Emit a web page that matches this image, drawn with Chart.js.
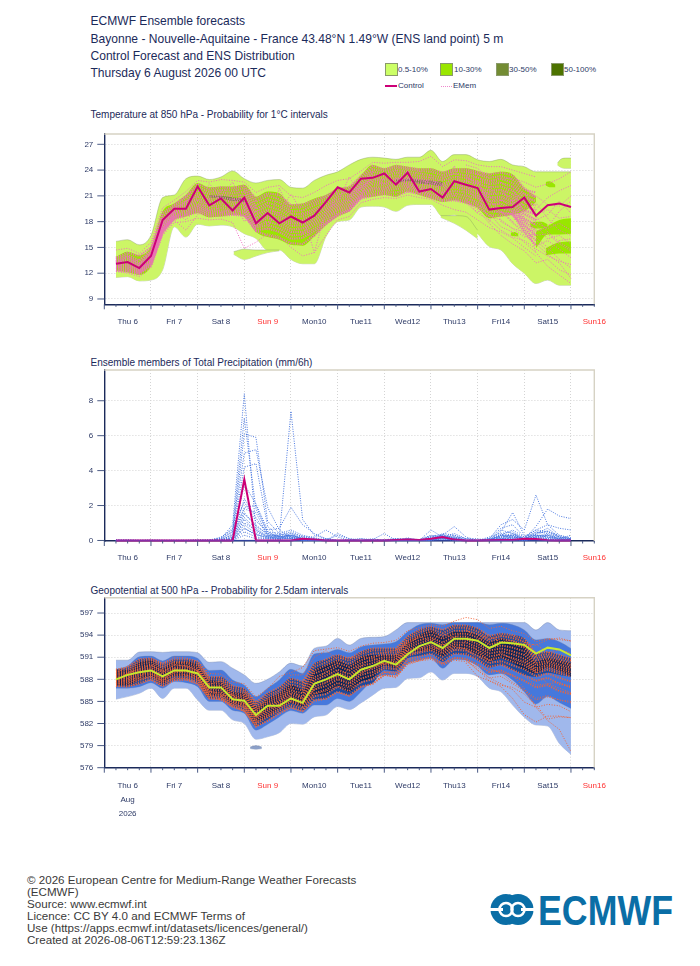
<!DOCTYPE html>
<html>
<head>
<meta charset="utf-8">
<script src="https://cdn.jsdelivr.net/npm/chart.js@4"></script>
<style>
  html, body { margin: 0; padding: 0; background: #fff; }
  body { position: relative; width: 700px; height: 966px; overflow: hidden; font-family: "Liberation Sans", Arial, sans-serif; }
  canvas { position: absolute; left: 0; }
  .txt { position: absolute; white-space: nowrap; color: #1b2a5a; }
  .head { font-size: 12.06px; left: 90.5px; line-height: 14px; }
  .sub { font-size: 10.03px; left: 90.5px; line-height: 12px; }
  .foot { font-size: 11.6px; left: 27px; line-height: 12px; color: #3a3a3a; }
  .leg { font-size: 8px; line-height: 10px; color: #2d3a66; }
  .sw { position: absolute; width: 11px; height: 11px; top: 63px; border: 1px solid #8a9a6a; }
</style>
</head>
<body>
<div class="txt head" style="top:13.5px">ECMWF Ensemble forecasts</div>
<div class="txt head" style="top:31.5px">Bayonne - Nouvelle-Aquitaine - France 43.48°N 1.49°W (ENS land point) 5 m</div>
<div class="txt head" style="top:48.5px">Control Forecast and ENS Distribution</div>
<div class="txt head" style="top:65.5px">Thursday 6 August 2026 00 UTC</div>

<div class="sw" style="left:385px;background:#ccff66"></div><div class="txt leg" style="left:398px;top:65px">0.5-10%</div>
<div class="sw" style="left:440px;background:#99e600"></div><div class="txt leg" style="left:454px;top:65px">10-30%</div>
<div class="sw" style="left:496px;background:#738c33"></div><div class="txt leg" style="left:509px;top:65px">30-50%</div>
<div class="sw" style="left:551px;background:#4d7300"></div><div class="txt leg" style="left:564px;top:65px">50-100%</div>
<div style="position:absolute;left:385px;top:85px;width:12px;height:2px;background:#cc0077"></div><div class="txt leg" style="left:398px;top:81px">Control</div>
<div style="position:absolute;left:441px;top:86px;width:11px;border-top:1px dotted #ee88cc"></div><div class="txt leg" style="left:453px;top:81px">EMem</div>

<div class="txt sub" style="top:108.5px">Temperature at 850 hPa - Probability for 1°C intervals</div>
<div class="txt sub" style="top:356.5px">Ensemble members of Total Precipitation (mm/6h)</div>
<div class="txt sub" style="top:584.5px">Geopotential at 500 hPa -- Probability for 2.5dam intervals</div>

<canvas id="tempChart" width="700" height="220" style="top:120px"></canvas>
<canvas id="rainChart" width="700" height="210" style="top:356px"></canvas>
<canvas id="geoChart" width="700" height="250" style="top:584px"></canvas>

<div class="txt foot" style="top:874px">© 2026 European Centre for Medium-Range Weather Forecasts</div>
<div class="txt foot" style="top:886px">(ECMWF)</div>
<div class="txt foot" style="top:898px">Source: www.ecmwf.int</div>
<div class="txt foot" style="top:910px">Licence: CC BY 4.0 and ECMWF Terms of</div>
<div class="txt foot" style="top:922px">Use (https://apps.ecmwf.int/datasets/licences/general/)</div>
<div class="txt foot" style="top:934px">Created at 2026-08-06T12:59:23.136Z</div>

<svg style="position:absolute;left:485px;top:885px" width="195" height="48" viewBox="0 0 195 48">
  <circle cx="21" cy="24.5" r="15.5" fill="#0a6ea6"/>
  <circle cx="33" cy="24.5" r="15.5" fill="#0a6ea6"/>
  <circle cx="21" cy="24.5" r="6.5" fill="none" stroke="#fff" stroke-width="2.6"/>
  <circle cx="33" cy="24.5" r="6.5" fill="none" stroke="#fff" stroke-width="2.6"/>
  <rect x="4" y="23" width="14" height="3" fill="#fff"/>
  <rect x="36" y="23" width="14" height="3" fill="#fff"/>
  <text x="53" y="39.5" font-family="Liberation Sans" font-weight="bold" font-size="42" fill="#0a6ea6" textLength="135" lengthAdjust="spacingAndGlyphs">ECMWF</text>
</svg>

<script>
const hours = [6,12,18,24,30,36,42,48,54,60,66,72,78,84,90,96,102,108,114,120,126,132,138,144,150,156,162,168,174,180,186,192,198,204,210,216,222,228,234,240];
const lateHours = [186,192,198,204,210,216,222,228,234,240];
const xTicks = [0,6,12,18,24,30,36,42,48,54,60,66,72,78,84,90,96,102,108,114,120,126,132,138,144,150,156,162,168,174,180,186,192,198,204,210,216,222,228,234,240,246,252];
const dayHours = [12,36,60,84,108,132,156,180,204,228,252];
const dayNames = ['Thu 6','Fri 7','Sat 8','Sun 9','Mon10','Tue11','Wed12','Thu13','Fri14','Sat15','Sun16'];
const redDays = [84,252];

const tempTicks = [9,12,15,18,21,24,27];
const rainTicks = [0,2,4,6,8];
const geoTicks = [576,579,582,585,588,591,594,597];

const tempControl = [13.1,13.3,12.6,14,18.2,19.5,19.5,22.1,19.9,20.7,19.3,20.8,17.8,19,17.8,18.6,17.9,18.7,20.3,22,21.4,23,23.1,23.6,22.3,23.7,21.5,21.8,20.8,22.7,22.3,21.9,19.4,19.6,19.7,20.8,18.7,19.9,20.1,19.7];
const temp10Upper = [15.7,15.9,15.3,16.4,20.8,21.1,23,23.3,22.9,23.2,23.9,23,22.5,22.8,22.9,22,21.9,22.8,23.4,23.8,24.6,25.25,25.5,25.4,25.25,25.5,25.5,26.3,25,25.8,25.8,25.2,25,25.25,24.6,24.4,23.8,23.8,23.8,23.8];
const temp10Lower = [11.5,11.6,11.1,11.2,12.4,17.4,16.2,17.7,17.5,17.6,17.4,16.6,16.05,14.7,14.7,13.6,13.1,13.1,16.25,18,18.2,19.7,19.8,19.7,19.2,19.9,20,20,18.6,18.8,17.8,16.6,15.1,14.7,13.1,12,10.8,11.2,10.6,10.6];
const temp30Hours = [6,12,18,24,30,36,42,48,54,60,66,72,78,84,90,96,102,108,114,120,126,132,138,144,150,156,162,168,174,180,186,192,198,204,210,216,222];
const temp30Upper = [13.9,14.5,14.1,15.1,19.2,20.1,21.1,22.5,22,22.1,22.1,22.3,20.9,21.5,21.3,20,20.1,20.7,21.1,21.9,22.1,23.4,24.6,24.2,24.6,24.4,24.2,24.2,23.8,24.2,24.2,23.9,23.6,23.8,23.5,21.9,20.9];
const temp30Lower = [12.3,12.1,11.8,12.8,16.6,18.2,18.6,19,18.5,18.6,18.8,18.6,16.8,16.2,15.9,15.3,15.2,16.3,17.6,18.6,19.2,20.7,20.9,21.1,20.9,21.5,21.1,20.7,20.3,20.5,20.1,19.6,18.4,18.6,18.8,19.2,20.3];
const tempOliveHours = [[54,60,66,72],[150,156,162,168,174]];
const tempOliveUpper = [[21.1,21,20.8,20.7],[22.9,23,22.9,22.8,22.6]];
const tempOliveLower = [[20.8,20.7,20.4,20.3],[22.5,22.7,22.4,22.3,22.1]];
// pieces of the light band that stand apart
const tempBlobHours = [[66.5,72,78,84,90],[233,235,238,240],[173,180,186,192]];
const tempBlobUpper = [[14.5,14.8,14.7,14.7,14.7],[24.8,25.3,25.4,25.4],[18.7,18.7,18.6,17]];
const tempBlobLower = [[14.2,13.6,14,14.4,14.6],[24.6,24.3,24.2,24.2],[18.5,17.8,17,16]];
// pieces of the bright band in the spread-out end of the run
const tempPatchHours = [[219,222,225,228],[222,228,234,240],[227,234,240],[227,229,232],[209,211,213]];
const tempPatchUpper = [[17.9,18,18,17.7],[16.9,17.5,18.2,18.4],[14.9,15.6,15.7],[22.6,22.7,22.3],[16.7,16.8,16.6]];
const tempPatchLower = [[17.4,17.2,17.2,17.4],[14.9,16.5,16.5,16.6],[14.1,14.3,14.3],[22.2,22,22],[16.4,16.3,16.3]];
const tempMembers = [
  [13.8,14.4,14.0,15.0,19.0,20.0,21.0,22.4,21.8,22.0,21.9,22.2,20.7,21.3,21.1,19.9,20.0,20.5,21.0,21.8,22.0,23.3,24.5,24.1,24.5,24.3,24.1,24.1,23.7,24.1,24.1,23.8,23.5,23.7,23.4,21.9,20.8],
  [13.6,14.1,13.5,14.6,18.6,19.8,20.8,22.0,21.5,21.7,21.6,21.9,20.3,21.0,20.6,19.6,19.7,20.2,20.8,21.5,21.7,23.0,24.1,23.9,24.3,24.1,23.9,23.8,23.4,23.9,23.8,23.5,23.1,23.3,22.9,21.7,21.4],
  [13.4,13.9,13.2,14.4,18.1,19.6,20.4,21.6,21.2,21.4,21.3,21.5,19.9,20.6,20.2,19.2,19.3,19.9,20.5,21.2,21.4,22.7,23.8,23.6,24.0,23.8,23.6,23.4,23.1,23.6,23.4,23.1,22.7,23.0,22.5,21.2,20.9],
  [13.3,13.7,13.0,14.2,17.9,19.5,20.2,21.2,20.9,21.1,21.0,21.1,19.5,20.2,19.8,18.9,18.9,19.5,20.1,20.9,21.1,22.4,23.5,23.3,23.7,23.5,23.3,23.1,22.8,23.2,23.1,22.7,22.4,22.5,22.1,20.8,20.4],
  [13.2,13.5,12.8,14.0,17.7,19.3,20.0,20.9,20.6,20.8,20.6,20.8,19.1,19.8,19.4,18.5,18.6,19.2,19.8,20.6,20.9,22.1,23.2,23.0,23.4,23.2,23.0,22.8,22.4,22.9,22.7,22.4,22.0,22.1,21.6,20.3,19.9],
  [13.1,13.3,12.6,13.9,17.5,19.1,19.8,20.6,20.3,20.5,20.3,20.5,18.8,19.4,19.0,18.1,18.2,18.9,19.5,20.3,20.6,21.9,22.9,22.8,23.1,23.0,22.8,22.5,22.1,22.6,22.3,22.0,21.6,21.7,21.2,19.8,19.3],
  [13.0,13.1,12.5,13.7,17.3,19.0,19.6,20.4,20.0,20.2,20.0,20.2,18.4,19.1,18.7,17.8,17.9,18.5,19.2,20.0,20.4,21.7,22.6,22.5,22.9,22.7,22.5,22.2,21.8,22.3,22.0,21.6,21.2,21.3,20.8,19.3,18.8],
  [12.9,12.9,12.4,13.6,17.2,18.9,19.4,20.1,19.7,19.9,19.7,19.9,18.1,18.7,18.3,17.5,17.6,18.2,18.9,19.8,20.1,21.4,22.3,22.3,22.6,22.5,22.2,21.9,21.5,22.0,21.7,21.3,20.8,20.9,20.4,18.9,18.2],
  [12.8,12.8,12.3,13.4,17.1,18.7,19.2,19.9,19.4,19.6,19.4,19.6,17.8,18.4,18.0,17.1,17.2,17.9,18.6,19.5,19.9,21.2,22.0,22.0,22.4,22.3,22.0,21.6,21.3,21.6,21.4,21.0,20.4,20.5,20.0,18.4,17.6],
  [12.7,12.6,12.2,13.3,17.0,18.6,19.1,19.7,19.2,19.3,19.2,19.3,17.5,18.0,17.6,16.8,16.8,17.6,18.3,19.3,19.7,21.1,21.8,21.8,22.1,22.1,21.8,21.3,21.0,21.3,21.0,20.7,20.0,20.1,19.5,18.0,17.0],
  [12.6,12.5,12.1,13.2,16.9,18.5,18.9,19.5,19.0,19.1,19.0,19.1,17.3,17.6,17.2,16.4,16.5,17.2,18.0,19.0,19.5,20.9,21.5,21.6,21.8,21.9,21.6,21.1,20.8,21.0,20.7,20.3,19.6,19.6,19.2,17.6,16.4],
  [12.4,12.3,12.0,13.0,16.8,18.4,18.8,19.3,18.8,18.9,18.9,18.8,17.0,17.2,16.8,16.0,16.1,16.9,17.8,18.8,19.3,20.8,21.2,21.4,21.4,21.7,21.4,20.9,20.5,20.7,20.4,20.0,19.2,19.1,18.9,17.2,15.8],
  [12.3,12.2,11.9,12.9,16.7,18.3,18.7,19.1,18.6,18.7,18.8,18.7,16.9,16.4,16.1,15.5,15.4,16.4,17.7,18.7,19.3,20.7,21.0,21.2,21.0,21.5,21.2,20.8,20.4,20.5,20.2,19.7,18.7,18.7,18.9,16.8,15.2]
];
const tempStrayMembers = [
  [14.7,14.9,14.3,15.6,19.6,20.5,21.5,22.8,22.6,22.9,22.8,22.6,21.4,22.0,22.2,21.0,20.8,21.4,22.2,22.8,23.0,23.9,24.9,24.8,24.9,24.9,25.0,25.6,24.4,25.2,25.1,24.6,24.4,24.4,24.0,23.6,23.2],
  [12.2,12.0,11.6,12.6,16.4,17.9,18.0,18.4,18.2,18.3,17.9,14.9,15.6,16.6,16.3,15.0,14.0,14.4,16.4,18.2,18.6,20.2,20.6,20.8,20.7,21.1,20.8,20.6,19.9,19.4,19.1,18.2,17.3,16.8,16.1,15.0,14.0],
  [13.5,13.2,13.6,14.3,18.5,18.2,17.0,18.8,20.8,19.0,19.6,21.6,18.0,17.0,21.9,19.0,17.4,16.2,18.8,21.0,21.6,22.0,23.0,22.4,23.0,22.9,24.0,22.2,23.1,23.6,21.6,22.6,20.3,19.2,18.0,19.4,18.8],
  [13.0,14.0,12.9,14.8,18.3,19.2,18.2,19.6,22.4,21.0,22.6,20.0,19.6,17.6,19.2,21.2,19.0,14.4,19.4,20.2,23.2,21.0,23.9,21.8,22.6,24.0,21.2,23.4,21.0,24.5,20.6,19.0,22.0,18.0,17.2,16.2,16.6],
  [12.6,13.4,12.4,13.8,17.6,18.8,20.4,21.0,19.0,21.6,20.8,18.0,19.2,20.0,18.4,18.6,16.5,18.6,20.6,19.6,21.0,22.6,21.6,23.0,24.1,22.0,23.4,21.8,22.4,20.9,23.0,21.2,18.0,20.6,22.2,18.4,14.4]
];
const tempLateMembers = [
  [23.2,22.4,21.0,19.8,18.6,17.6,16.2,15.0,13.6,12.6],
  [22.6,21.4,20.4,19.4,18.0,16.4,15.4,14.2,13.2,11.4],
  [21.8,20.6,19.0,17.4,16.8,15.6,14.4,12.8,11.8,10.8],
  [24.0,23.6,22.8,22.6,21.6,20.4,18.6,16.8,15.6,14.8],
  [23.6,23.2,22.4,21.2,22.0,21.2,20.2,18.4,17.0,16.4],
  [22.9,22.0,20.8,20.6,19.6,18.2,17.6,16.0,16.4,15.4],
  [21.2,20.0,18.6,18.2,17.2,16.8,15.2,15.8,14.8,13.8],
  [20.6,19.4,17.8,16.4,15.4,14.6,13.2,13.6,12.4,11.8],
  [23.9,23.5,23.4,22.9,23.1,22.6,22.0,22.4,23.0,23.8],
  [22.2,21.0,21.4,20.0,19.2,19.6,18.8,19.4,18.4,18.6],
  [24.6,24.2,23.0,21.6,20.4,21.4,19.4,20.8,21.6,22.2],
  [21.6,22.8,20.0,18.8,20.6,17.4,16.8,17.4,19.2,20.4],
  [23.0,22.6,21.8,20.8,20.2,18.8,17.9,17.2,17.8,17.0],
  [22.4,21.8,20.6,19.0,18.9,18.4,16.4,16.6,15.4,14.6],
  [21.4,20.8,19.6,19.2,17.8,17.0,15.8,14.6,15.8,16.0],
  [23.4,22.2,21.2,21.8,19.9,20.0,21.0,20.0,19.8,21.0],
  [20.2,19.0,18.2,17.0,16.2,15.8,14.8,14.0,13.4,13.0],
  [22.8,23.2,22.2,20.4,21.2,19.2,18.2,18.8,20.4,19.0]
];

const rainControl = [0,0,0,0,0,0,0,0,0,0,0,3.5,0,0,0,0,0.1,0.05,0,0,0,0,0,0,0.03,0.05,0.03,0.1,0.2,0.05,0,0,0.02,0.03,0.03,0.1,0.08,0.02,0,0];
const rainDry = [0,0,0,0,0,0,0,0,0,0,0,0,0,0,0,0,0,0,0,0,0,0,0,0,0,0,0,0,0,0,0,0,0,0,0,0,0,0,0,0];
const rainMembers = [
  [0,0,0,0,0,0,0,0,0.05,0.1,0.9,8.4,0.6,0.2,0.1,0.3,0.1,0,0,0,0,0,0.1,0,0,0,0,0.1,0.1,0.2,0,0,0,0.3,0.2,0.1,0.2,0.3,0.1,0],
  [0.05,0,0,0,0,0,0,0,0,0.2,0.6,7.0,1.8,0.5,0.2,0.1,0,0,0.1,0,0,0,0,0.05,0.1,0,0,0.6,0.2,0.1,0,0,0.1,0.7,0.9,0.2,0.6,0.5,0.2,0.1],
  [0,0.05,0,0,0,0,0,0,0,0,0.4,6.1,5.9,1.1,0.4,0.2,0.1,0,0,0.4,0.1,0,0,0,0,0.15,0,0.1,0.3,0.8,0.2,0,0,0.5,1.6,0.3,0.3,0.2,0.1,0],
  [0,0,0,0.03,0,0,0,0,0,0.1,0.5,5.0,5.2,1.9,0.6,0.2,0,0,0,0,0,0.1,0.05,0,0,0,0,0,0.4,0.3,0.1,0,0.1,0.9,1.2,0.6,2.6,0.9,0.3,0.1],
  [0,0,0,0,0,0,0,0.05,0,0.05,0.3,4.2,4.4,0.8,0.2,7.4,1.2,0.3,0.1,0,0,0,0.02,0,0.1,0,0,0.2,0.1,0.1,0,0,0.2,0.4,0.5,0.1,0.8,1.8,1.4,1.25],
  [0,0,0,0,0,0,0,0,0,0,0.2,3.2,2.1,0.6,0.7,1.9,0.9,0.4,0.1,0,0,0,0,0,0,0.1,0.05,0.3,0.2,0.2,0.1,0,0,0.3,0.6,0.2,0.6,0.9,0.7,0.6],
  [0,0,0,0,0,0,0,0,0,0,0.1,2.4,1.3,0.3,0.3,0.5,0.2,0.2,0.6,0.2,0,0,0,0,0,0,0,0,0.2,0.4,0.1,0.1,0,0.2,0.3,0.1,0.5,0.4,0.2,0.1],
  [0,0,0,0,0,0,0,0,0,0,0.1,1.9,2.0,0.4,0.2,0.3,0.1,0.1,0,0.3,0.1,0,0.05,0.4,0,0.05,0,0.2,0.3,0.1,0,0,0,0.6,0.4,0.1,0.3,0.3,0.1,0.3],
  [0,0,0,0,0,0,0,0,0,0,0.05,1.5,0.9,0.3,0.2,0.3,0.1,0,0,0,0.05,0.1,0,0,0.1,0.1,0,0.1,0.2,0.3,0,0,0.1,0.2,0.3,0.1,0.4,0.7,0.2,0.05],
  [0,0,0,0,0,0,0,0,0,0,0,1.2,0.5,0.2,0.1,0.4,0.05,0,0,0,0,0,0,0,0,0,0,0.05,0.3,0.1,0,0,0,0.3,0.2,0.05,0.2,0.2,0.1,0],
  [0,0,0,0,0,0,0,0,0,0,0,0.9,0.4,0.1,0.2,0.2,0.1,0,0,0,0,0,0,0.02,0,0,0,0.1,0.1,0.05,0,0,0.05,0.1,0.2,0.1,0.3,0.2,0.05,0],
  [0,0,0,0,0,0,0,0,0,0,0,0.7,0.3,0.2,0.1,0.1,0,0,0,0,0,0,0,0,0,0.05,0,0.05,0.2,0.1,0,0,0,0.2,0.1,0,0.2,0.1,0,0],
  [0,0,0,0,0,0,0,0,0,0,0,0.5,0.2,0.1,0.1,0.1,0.05,0.02,0,0,0,0,0,0,0.02,0,0,0,0.1,0,0,0,0,0.1,0.1,0.02,0.1,0.1,0,0.05],
  [0,0,0,0,0,0,0,0,0,0,0,0.3,0.1,0.1,0.05,0.2,0,0,0,0,0,0,0,0,0,0,0,0.02,0.1,0.05,0,0,0,0.05,0.05,0,0.1,0.05,0.02,0],
  [0,0,0,0,0,0,0,0,0,0.15,0.7,2.2,1.1,0.5,0.4,0.6,0.3,0.15,0.05,0,0,0,0,0,0.05,0.1,0.05,0.25,0.35,0.15,0,0,0.1,0.25,0.4,0.15,0.45,0.5,0.3,0.15],
  [0,0,0,0,0,0,0,0,0,0.1,0.5,1.8,1.6,0.3,0.3,0.4,0.25,0.1,0,0,0,0,0,0,0,0.05,0,0.2,0.25,0.1,0,0,0.05,0.35,0.25,0.1,0.35,0.55,0.2,0.1],
  [0,0,0,0,0,0,0,0,0,0.05,0.3,1.6,0.8,0.4,0.25,0.3,0.2,0.05,0,0,0,0,0,0,0.03,0,0,0.15,0.2,0.2,0,0,0,0.15,0.35,0.05,0.25,0.35,0.15,0.05],
  [0,0,0,0,0,0,0,0,0,0,0.2,1.3,0.7,0.25,0.15,0.25,0.15,0.05,0,0,0,0,0,0,0,0,0.03,0.1,0.15,0.1,0,0,0,0.1,0.2,0.05,0.2,0.3,0.1,0.03],
  [0,0,0,0,0,0,0,0,0,0,0.15,1.0,0.6,0.2,0.25,0.15,0.1,0,0,0,0,0,0,0,0,0.03,0,0.08,0.12,0.05,0,0,0.03,0.08,0.15,0.03,0.15,0.15,0.08,0.02],
  [0,0,0,0,0,0,0,0,0,0,0.08,0.7,0.35,0.15,0.12,0.12,0.08,0.03,0,0,0,0,0,0,0,0,0,0.05,0.08,0.03,0,0,0,0.05,0.1,0,0.08,0.08,0.03,0]
];

const geoControl = [588,588.6,588.95,589.2,588.4,589.2,589.2,588.8,586.9,586.9,585.3,585.1,583.15,584.4,584.4,585.4,584.8,587.4,588,588.7,588,589.3,589.8,590.5,590,591.4,592.5,593.05,592.25,593.5,593.5,593.25,592.25,593,592.9,592.65,591.5,592.3,592.05,591.25];
const geo10Upper = [590.6,590.6,591.7,591.75,591.65,591.75,591.75,591.6,590.3,590.4,589.5,588.6,587.45,588,589,590.2,589.8,592.2,592.5,593.55,592.65,593.55,593.7,593.8,594.7,595.7,595.7,595.7,595.7,595.7,595.7,595.7,595.7,595.7,595.7,595.7,594.7,595.7,594.7,594.6];
const geo10Lower = [585.3,585.65,586.1,586.8,585.4,586.8,586.8,585.2,583.8,583.8,582.5,582,579.85,580.2,580.75,582,581.9,582.9,583.15,584.3,583.9,584.8,585.85,586.8,586.9,588.1,588.2,589,587.9,588.8,588.8,588.35,586.8,586.3,584.5,582.85,581.8,581.65,579.3,577.8];
const geo30Upper = [589.35,589.8,591.05,591.15,590.5,591.15,591.15,590.85,589.2,589.25,587.9,587.2,585.65,586.8,587.9,589.35,588.8,591.45,591.6,592.05,591.6,592.4,592.65,592.8,593.1,594.45,595.4,595.6,595.4,595.7,595.7,595.7,595.4,595.6,595.4,594.7,593.35,593.55,593.1,592.2];
const geo30Lower = [586.8,586.8,587,587.55,586.8,587.7,587.55,587,585,585,583.8,583.4,581.1,581.9,582.9,583.75,583.4,584.5,584.5,585.4,585,586.3,587.9,588.6,588.6,590.15,590.6,590.85,589.5,590.7,590.6,589.8,588.6,588.8,587.9,586.3,584.65,585.65,584.85,584.05];
const geo50Upper = [589.35,589.6,590.7,590.85,590.1,590.7,590.7,590.4,588.35,588.35,587.1,586.75,584.95,586.1,586.9,588.15,587.7,590.15,590.7,591.3,590.85,591.75,592.2,592.2,592.2,593.8,594.7,595.15,594.7,595.35,595.35,594.9,593.9,594.25,594,593.55,591.5,591.75,591.3,590.85];
const geo50Lower = [587.1,587,587.35,588,587.1,587.9,588,587.45,585.4,585.3,584.3,583.75,581.65,582.45,583.45,584.2,583.75,585.2,585.4,586.3,585.85,587,587.45,589.25,589.05,590.85,591.15,591.45,590.4,591.45,591.3,590.6,589.6,589.95,589.25,588.6,588.35,588.9,588.6,588.35];
const geoTopUpper = [589.25,589.25,590.3,590.55,589.5,590.4,590.4,589.95,587.9,587.7,586.3,586.1,584.3,585.4,586.1,587.25,586.65,589.25,589.95,590.6,589.95,591.05,591.3,591.3,591.3,593.1,594,594.7,593.8,594.45,594.45,594,593.1,593.55,593.1,592.65,590.4,590.85,590.6,590.2];
const geoTopLower = [587.2,587.2,587.9,588.45,587.45,588.45,588.45,587.9,585.85,585.75,584.65,584.3,582.25,582.9,584.05,584.75,584.3,585.85,586.1,587,586.3,587.7,588.15,589.9,589.5,591.45,591.8,591.9,591.1,592.2,592,591.3,590.4,590.85,590.2,589.3,588.8,589.6,589.15,588.35];
const geoBlobHours = [75,78,81];
const geoBlobUpper = [578.8,579,578.8];
const geoBlobLower = [578.6,578.5,578.6];
const geoMembers = [
  [589.3,589.6,590.6,590.8,590.1,590.7,590.7,590.4,588.3,588.3,587.1,586.7,584.9,586.1,586.9,588.1,587.7,590.1,590.7,591.3,590.8,591.7,592.2,592.2,592.2,593.8,594.7,595.1,594.7,595.3,595.3,594.9,593.9,594.2,594,593.5,591.5,591.7,591.3,590.8],
  [589.1,589.3,590.3,590.6,589.8,590.4,590.4,590.1,588,588,586.8,586.4,584.6,585.8,586.5,587.7,587.3,589.7,590.3,591,590.5,591.4,591.9,591.9,591.9,593.5,594.4,594.8,594.3,595,595,594.5,593.5,593.9,593.6,593.1,591.2,591.4,591,590.5],
  [588.9,589,590,590.3,589.5,590.2,590.2,589.8,587.7,587.7,586.5,586.1,584.3,585.4,586.1,587.3,586.9,589.2,589.9,590.6,590.1,591,591.5,591.6,591.6,593.2,594,594.5,593.9,594.6,594.6,594.1,593.1,593.5,593.2,592.7,590.9,591.1,590.7,590.2],
  [588.7,588.8,589.7,590,589.2,589.9,589.9,589.5,587.4,587.4,586.2,585.8,584,585.1,585.8,586.9,586.5,588.8,589.4,590.2,589.7,590.6,591.1,591.3,591.3,593,593.7,594.1,593.5,594.2,594.2,593.7,592.7,593.1,592.8,592.3,590.6,590.8,590.4,589.9],
  [588.5,588.6,589.4,589.8,589,589.6,589.7,589.2,587.1,587.1,585.9,585.5,583.7,584.8,585.5,586.5,586.1,588.3,588.9,589.8,589.2,590.2,590.6,591,591,592.6,593.3,593.7,593,593.8,593.8,593.2,592.3,592.6,592.3,591.8,590.2,590.5,590,589.6],
  [588.3,588.4,589.2,589.5,588.7,589.4,589.4,589,586.9,586.8,585.7,585.2,583.4,584.4,585.2,586.2,585.7,587.9,588.5,589.3,588.7,589.8,590.2,590.7,590.7,592.3,592.9,593.4,592.6,593.4,593.4,592.8,591.9,592.2,591.8,591.3,589.9,590.2,589.7,589.3],
  [588.1,588.2,589,589.3,588.4,589.2,589.2,588.7,586.6,586.5,585.4,584.9,583.1,584.1,584.9,585.9,585.4,587.5,588,588.9,588.3,589.4,589.8,590.4,590.4,592,592.5,593,592.2,593,593,592.4,591.5,591.8,591.4,590.8,589.5,589.9,589.4,589],
  [587.9,588,588.7,589,588.2,589,589,588.4,586.3,586.2,585.1,584.7,582.8,583.8,584.6,585.6,585,587,587.6,588.5,587.9,589,589.4,590.1,590,591.7,592.1,592.6,591.9,592.7,592.6,592,591.1,591.4,590.9,590.4,589.2,589.6,589.1,588.7],
  [587.7,587.8,588.5,588.8,587.9,588.7,588.7,588.2,586,585.9,584.9,584.4,582.5,583.5,584.3,585.2,584.7,586.6,587.1,588,587.4,588.6,589,589.8,589.7,591.4,591.8,592.3,591.5,592.3,592.2,591.6,590.6,591,590.4,589.9,588.9,589.3,588.8,588.4],
  [587.5,587.6,588.2,588.6,587.7,588.5,588.5,588,585.8,585.6,584.6,584.2,582.2,583.2,584,584.9,584.3,586.1,586.6,587.5,587,588.1,588.6,589.5,589.4,591.2,591.6,592,591.1,592,591.9,591.2,590.2,590.5,589.9,589.4,588.4,588.8,588.2,587.7],
  [587.3,587.3,587.9,588.3,587.4,588.2,588.2,587.7,585.6,585.4,584.4,583.9,581.9,582.9,583.7,584.5,584,585.7,586,587,586.4,587.6,588,589,588.8,590.7,591.1,591.5,590.6,591.5,591.4,590.7,589.7,590,589.3,588.6,587.8,588.2,587.4,587],
  [587.1,587,587.5,588,587.1,587.9,588,587.4,585.4,585.3,584.3,583.7,581.6,582.4,583.4,584.2,583.7,585.2,585.4,586.3,585.8,587,587.4,588.6,588.4,590.2,590.6,591,590.1,590.9,590.8,590,589,589.2,588.5,587.8,586.9,587.2,586.4,586]
];
const geoStrayMembers = [
  [588.8,589.8,590.8,590.9,590.2,591,590.9,590.5,588.8,588.7,587.6,587.4,585.6,586.7,588.4,588.9,589.6,591.9,592.1,592.3,591.8,592.5,592.9,593,593.3,594.6,595,595.4,595.2,595.9,596.4,596.1,594.9,595.2,594.6,594.2,593.1,593.5,593.4,593.2],
  [587.9,588.8,589.4,590,588.9,590,589.8,589.2,587.3,587.8,585.4,585.9,583.8,585.4,586.4,588.6,588.6,591,591.9,590.7,591,591,590.8,591.6,592,592.8,593.8,593.2,594.2,593.6,594.8,593.4,593.9,593,593.3,592.4,592.8,591.6,592,591.6],
  [587.6,587.9,588.2,589.7,587.6,589.6,588.4,589.3,586.4,585.8,585.9,584.4,582.7,584.6,585,586.8,585.2,587.2,589.2,588.2,589.4,589.8,591,590,590.8,591.6,592.4,591.8,592.9,591.9,593.2,591.9,590.6,591.6,590.7,590.2,589,587.4,587.6,586.8],
  [587,587.1,587.3,587.9,587,587.8,587.9,587.4,585.4,585.2,584.2,583.7,581.6,582.3,583.3,584.1,583.6,585,585.3,586.2,585.7,586.9,587.4,588.6,588.2,590,590.5,590.7,589.9,590.6,590.4,589.6,588.2,588.4,587.4,586.4,585.2,585.6,585.2,585],
  [587.4,587.5,588,588.4,587.6,588.1,588.1,587.7,585.8,585.7,584.8,584.1,582.1,583,584.1,585,584.6,586,586.4,587.1,586.8,587.5,588.2,588.9,589.1,590.5,590.8,590.9,590.2,590.9,590.7,589.3,587.8,587.2,586.9,586,584.5,582.6,582.9,582.8],
  [588,588.1,589.1,589.2,588,589,589.1,588.2,586.4,586.1,585,584.5,582.9,584,584.6,585.5,584.9,586.6,587.5,588.2,587.6,588.8,589.6,590.2,590.3,591.9,592.2,592.8,591.7,592.5,592.1,590.8,589.4,588.9,588.6,586.8,584.2,582.4,581.2,578.2]
];
const geoLateMembers = [
  [591.6,590.6,589.4,588.9,587.6,586.6,585.4,585.8,585.2,584.8],
  [590.6,589.2,588.2,587.4,586.6,584.9,584.2,584.6,584.4,583.6],
  [590.2,588.4,587.8,587,585.4,583.2,582.2,583,583,582.8],
  [592,591.2,590.6,590.2,589.3,588.4,587.2,587.4,586.8,586.2],
  [594.6,594.2,593.4,593.8,593.9,593,592.6,593.4,593.6,593.2]
];

const navy = '#1b2a5a';
const grid = '#d4d4d4';

function pts(xs, ys) {
  return xs.map((x, i) => ({ x: x, y: ys[i] }));
}

// a pair of line datasets, the second one filled down to the first
function band(xs, up, low, color, edge) {
  const common = { pointRadius: 0, borderWidth: edge ? 0.7 : 0, borderColor: edge || color, cubicInterpolationMode: 'monotone' };
  return [
    Object.assign({ data: pts(xs, low), fill: false }, common),
    Object.assign({ data: pts(xs, up), fill: '-1', backgroundColor: color }, common)
  ];
}

function dotted(xs, list, color, width, dash) {
  return list.map(m => ({ data: pts(xs, m), borderColor: color, borderWidth: width, borderDash: dash, pointRadius: 0, fill: false }));
}

function solid(values, color, width) {
  return { data: pts(hours, values), borderColor: color, borderWidth: width, pointRadius: 0, fill: false, borderJoinStyle: 'miter', clip: 4 };
}

// frame in beige plus the tick marks, long at midnight and short otherwise
const frame = {
  id: 'frame',
  afterDraw(chart) {
    const { ctx, chartArea: a, scales } = chart;
    ctx.save();
    ctx.strokeStyle = '#d6d2c4';
    ctx.lineWidth = 1.4;
    ctx.beginPath();
    ctx.moveTo(a.left, a.top);
    ctx.lineTo(a.right, a.top);
    ctx.lineTo(a.right, a.bottom);
    ctx.stroke();
    ctx.lineWidth = 1;
    ctx.strokeStyle = '#4a5a85';
    xTicks.forEach(h => {
      const px = scales.x.getPixelForValue(h);
      ctx.beginPath();
      ctx.moveTo(px, a.bottom);
      ctx.lineTo(px, a.bottom + (h % 24 === 0 ? 5 : 2.5));
      ctx.stroke();
    });
    scales.y.ticks.forEach(t => {
      const py = scales.y.getPixelForValue(t.value);
      ctx.beginPath();
      ctx.moveTo(a.left - 7, py);
      ctx.lineTo(a.left, py);
      ctx.stroke();
    });
    ctx.restore();
  }
};

function makeChart(id, datasets, yMin, yMax, yTicks, plotTop, plotBottom, canvasTop, canvasH, showDate) {
  datasets.forEach((d, i) => { d.order = 1000 - i; });
  return new Chart(document.getElementById(id), {
    type: 'line',
    data: { datasets: datasets },
    plugins: [frame],
    options: {
      responsive: false,
      animation: false,
      parsing: { xAxisKey: 'x', yAxisKey: 'y' },
      layout: { padding: { top: plotTop - canvasTop, right: 105.7, left: 0, bottom: 0 } },
      plugins: { legend: { display: false }, tooltip: { enabled: false } },
      scales: {
        x: {
          type: 'linear', min: 0, max: 252,
          afterBuildTicks: s => { s.ticks = xTicks.map(v => ({ value: v })); },
          afterFit: s => { s.height = canvasTop + canvasH - plotBottom; s.paddingLeft = 0; s.paddingRight = 0; },
          grid: { color: c => (c.tick && c.tick.value % 24 === 0 && c.tick.value > 0 ? grid : 'rgba(0,0,0,0)'), drawTicks: false, lineWidth: 1 },
          border: { color: navy, width: 1.4, dash: [1, 2] },
          ticks: {
            autoSkip: false, maxRotation: 0, padding: showDate ? 11 : 10,
            font: { family: 'Liberation Sans', size: 8, lineHeight: 1.75 },
            color: c => (redDays.includes(c.tick.value) ? '#ff3030' : '#2d3a66'),
            callback: v => {
              const i = dayHours.indexOf(v);
              if (i < 0) return '';
              return showDate && i === 0 ? [dayNames[0], 'Aug', '2026'] : dayNames[i];
            }
          }
        },
        y: {
          min: yMin, max: yMax,
          afterBuildTicks: s => { s.ticks = yTicks.map(v => ({ value: v })); },
          afterFit: s => { s.width = 104.3; s.paddingTop = 0; s.paddingBottom = 0; },
          grid: { color: grid, drawTicks: false, lineWidth: 1 },
          border: { color: navy, width: 1.4, dash: [1, 2] },
          ticks: { padding: 11, font: { family: 'Liberation Sans', size: 8 }, color: '#2d3a66' }
        }
      }
    }
  });
}

// temperature
let tempSets = [];
const tempEdge = 'rgba(130,150,100,0.55)';
tempSets = tempSets.concat(band(hours, temp10Upper, temp10Lower, '#ccf566', tempEdge));
tempBlobHours.forEach((h, i) => { tempSets = tempSets.concat(band(h, tempBlobUpper[i], tempBlobLower[i], '#ccf566', tempEdge)); });
tempSets = tempSets.concat(band(temp30Hours, temp30Upper, temp30Lower, '#99e600'));
tempPatchHours.forEach((h, i) => { tempSets = tempSets.concat(band(h, tempPatchUpper[i], tempPatchLower[i], '#99e600')); });
tempOliveHours.forEach((h, i) => { tempSets = tempSets.concat(band(h, tempOliveUpper[i], tempOliveLower[i], '#738c33')); });
tempSets = tempSets.concat(dotted(temp30Hours, tempMembers, '#ea74b4', 2.2, [1.2, 1.1]));
tempSets = tempSets.concat(dotted(temp30Hours, tempStrayMembers, '#f06cc0', 1, [1, 1.6]));
tempSets = tempSets.concat(dotted(lateHours, tempLateMembers, '#f06cc0', 1, [1, 1.5]));
tempSets.push(solid(tempControl, '#cc0077', 2));
makeChart('tempChart', tempSets, 8.38, 28.2, tempTicks, 134, 304.3, 120, 220, false);

// precipitation
let rainSets = dotted(hours, rainMembers, '#4a78e0', 1, [1, 1.4]);
rainSets.push(solid(rainControl, '#cc0077', 2));
rainSets.push(solid(rainDry, 'rgba(70,90,220,0.5)', 1.4));
makeChart('rainChart', rainSets, -0.03, 9.76, rainTicks, 370, 541, 356, 210, false);

// geopotential
let geoSets = [];
const geoEdge = 'rgba(110,125,165,0.5)';
geoSets = geoSets.concat(band(hours, geo10Upper, geo10Lower, '#a0b8ec', geoEdge));
geoSets = geoSets.concat(band(geoBlobHours, geoBlobUpper, geoBlobLower, '#8ca0c8', geoEdge));
geoSets = geoSets.concat(band(hours, geo30Upper, geo30Lower, '#4678dc', geoEdge));
geoSets = geoSets.concat(band(hours, geo50Upper, geo50Lower, '#1d4a9c'));
geoSets = geoSets.concat(band(hours, geoTopUpper, geoTopLower, '#0b2559'));
geoSets = geoSets.concat(dotted(hours, geoMembers, '#e8663e', 2, [1.2, 1.3]));
geoSets = geoSets.concat(dotted(hours, geoStrayMembers, '#f0663c', 1, [1, 1.6]));
geoSets = geoSets.concat(dotted(lateHours, geoLateMembers, '#f0663c', 1, [1, 1.6]));
geoSets.push(solid(geoControl, '#c8e82e', 2));
makeChart('geoChart', geoSets, 576, 599.08, geoTicks, 597.7, 767.7, 584, 250, true);
</script>
</body>
</html>
